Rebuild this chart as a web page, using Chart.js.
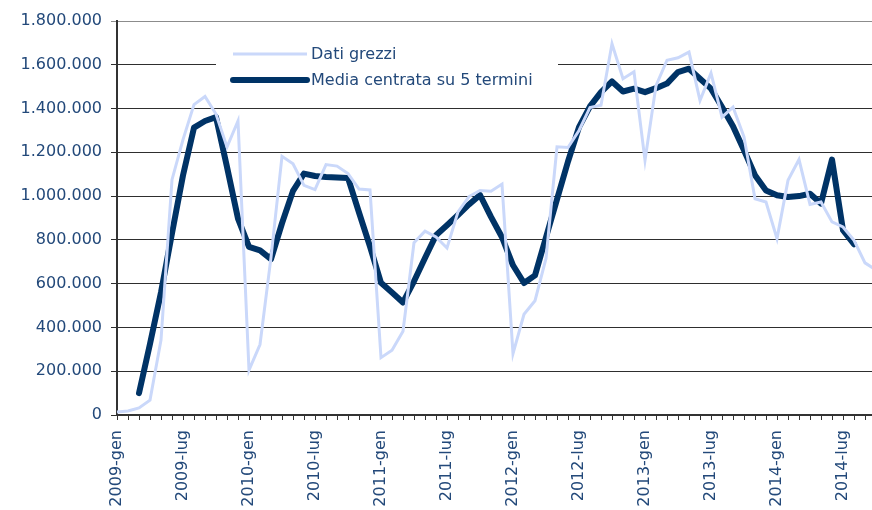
<!DOCTYPE html>
<html lang="it">
<head>
<meta charset="UTF-8">
<title>Dati grezzi e media centrata su 5 termini</title>
<script src="https://cdn.jsdelivr.net/npm/chart.js"></script>
<style>
  html, body { margin: 0; padding: 0; background: #fff; overflow: hidden; }
  #wrap { width: 880px; height: 510px; }
</style>
</head>
<body>
<div id="wrap"><canvas id="grafico" width="880" height="510"></canvas></div>
<script>
  // etichette asse x: mesi da 2009-gen a 2014-ott
  const anni = [2009, 2010, 2011, 2012, 2013, 2014];
  const mesi = ['gen', 'feb', 'mar', 'apr', 'mag', 'giu', 'lug', 'ago', 'set', 'ott', 'nov', 'dic'];
  const numeroMesi = 70;

  const datiGrezzi = [
    14000, 18000, 32000, 68000, 342000, 1075000, 1258000, 1418000, 1455000, 1375000, 1224000, 1343000,
    205000, 322000, 720000, 1182000, 1148000, 1049000, 1030000, 1144000, 1137000, 1103000, 1032000, 1028000,
    262000, 296000, 383000, 787000, 840000, 813000, 763000, 928000, 998000, 1026000, 1022000, 1055000,
    280000, 460000, 522000, 715000, 1225000, 1222000, 1300000, 1405000, 1415000, 1696000, 1536000, 1568000,
    1163000, 1505000, 1621000, 1632000, 1658000, 1437000, 1562000, 1361000, 1407000, 1270000, 988000, 973000,
    806000, 1072000, 1167000, 962000, 973000, 882000, 859000, 798000, 695000, 662000
  ];

  const mediaCentrata = [
    null, null, 100000, 325000, 560000, 830000, 1095000, 1313000, 1343000, 1361000, 1133000, 897000,
    768000, 752000, 712000, 876000, 1024000, 1103000, 1092000, 1087000, 1085000, 1083000, 925000, 770000,
    604000, 560000, 514000, 611000, 717000, 821000, 867000, 914000, 962000, 1005000, 905000, 812000,
    684000, 603000, 638000, 812000, 985000, 1158000, 1315000, 1410000, 1475000, 1524000, 1478000, 1491000,
    1475000, 1493000, 1514000, 1567000, 1582000, 1536000, 1491000, 1407000, 1319000, 1209000, 1095000, 1026000,
    1004000, 996000, 1000000, 1011000, 966000, 1167000, 844000, 780000, null, null
  ];

  const yMax = 1800000;
  const yPasso = 200000;

  const etichette = [];
  anni.forEach(a => mesi.forEach(m => etichette.push(a + '-' + m)));
  etichette.length = numeroMesi;

  const coloreTesto = '#23497a';
  const fontBase = { family: '"DejaVu Sans", Verdana, sans-serif', size: 16 };

  function formatta(v) {
    return String(v).replace(/\B(?=(\d{3})+(?!\d))/g, '.');
  }

  // legenda disegnata dentro l'area del grafico, con fondo bianco
  const legendaInterna = {
    id: 'legendaInterna',
    afterDatasetsDraw(chart) {
      const { ctx, chartArea } = chart;
      const x0 = chartArea.left + 99;
      const y0 = chartArea.top + 15;
      ctx.save();
      ctx.fillStyle = '#ffffff';
      ctx.fillRect(x0, y0, 342, 60);
      ctx.font = '16px "DejaVu Sans", Verdana, sans-serif';
      ctx.textBaseline = 'middle';
      chart.data.datasets.forEach((ds, i) => {
        const y = y0 + 18 + i * 26;
        ctx.strokeStyle = ds.borderColor;
        ctx.lineWidth = ds.borderWidth;
        ctx.lineCap = ds.borderCapStyle || 'butt';
        ctx.beginPath();
        ctx.moveTo(x0 + 17, y);
        ctx.lineTo(x0 + 91, y);
        ctx.stroke();
        ctx.fillStyle = coloreTesto;
        ctx.fillText(ds.label, x0 + 95, y + 1);
      });
      ctx.restore();
    }
  };

  new Chart(document.getElementById('grafico'), {
    type: 'line',
    data: {
      labels: etichette,
      datasets: [
        {
          label: 'Dati grezzi',
          data: datiGrezzi,
          borderColor: 'rgb(202, 216, 250)',
          borderWidth: 3,
          pointRadius: 0,
          tension: 0
        },
        {
          label: 'Media centrata su 5 termini',
          data: mediaCentrata,
          borderColor: '#003366',
          borderWidth: 6,
          borderCapStyle: 'round',
          borderJoinStyle: 'round',
          pointRadius: 0,
          tension: 0
        }
      ]
    },
    options: {
      responsive: false,
      animation: false,
      layout: { padding: { top: 21, right: 4, bottom: 0, left: 0 } },
      plugins: { legend: { display: false }, tooltip: { enabled: false } },
      scales: {
        x: {
          afterFit(s) { s.height = 95; s.paddingLeft = 0; s.paddingRight = 0; },
          ticks: {
            autoSkip: false,
            minRotation: 90,
            maxRotation: 90,
            padding: 10,
            color: coloreTesto,
            font: fontBase,
            callback: function (v, i) { return i % 6 === 0 ? this.getLabelForValue(v) : ''; }
          },
          grid: { drawOnChartArea: false, drawTicks: true, tickLength: 5, color: '#333333' },
          border: { color: '#333333', width: 2 }
        },
        y: {
          min: 0,
          max: yMax,
          afterFit(s) { s.width = 117; s.paddingTop = 0; s.paddingBottom = 0; },
          ticks: {
            stepSize: yPasso,
            padding: 9,
            color: coloreTesto,
            font: fontBase,
            callback: v => formatta(v)
          },
          grid: {
            color: c => (c.tick && c.tick.value === yMax) ? '#8c8c8c' : '#2e2e2e',
            lineWidth: 1,
            tickLength: 6
          },
          border: { color: '#333333', width: 2 }
        }
      }
    },
    plugins: [legendaInterna]
  });
</script>
</body>
</html>
